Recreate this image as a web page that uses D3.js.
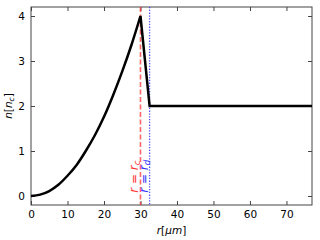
<!DOCTYPE html>
<meta charset="utf-8">
<script src="https://d3js.org/d3.v7.min.js"></script>
<style>
  body { margin: 0; background: #fff; }
  text { font-family: "DejaVu Sans", sans-serif; }
</style>
<div id="viz"></div>
<script>
// density profile
var radius  = [0, 2.5, 5, 7.5, 10, 12.5, 15, 17.5, 20, 22.5, 25, 27.5, 30, 32.5, 77];
var density = [0, 0.03, 0.11, 0.25, 0.45, 0.69, 1.0, 1.35, 1.76, 2.24, 2.77, 3.35, 4.0, 2.0, 2.0];
var rc = 30, rd = 32.5;
var xTicks = [0, 10, 20, 30, 40, 50, 60, 70];
var yTicks = [0, 1, 2, 3, 4];

var margin = {top: 7, right: 8, bottom: 35, left: 31},
    width = 320 - margin.left - margin.right,
    height = 240 - margin.top - margin.bottom;

var svg = d3.select("#viz")
  .append("svg")
    .attr("width", 320)
    .attr("height", 240)
  .append("g")
    .attr("transform", "translate(" + margin.left + "," + margin.top + ")");

var x = d3.scaleLinear().domain([0, 77]).range([0, width]);
var y = d3.scaleLinear().domain([-0.2, 4.2]).range([height, 0]);

// ticks on all four sides, pointing in
function styleAxis(g) {
  g.select(".domain").remove();
  g.selectAll("line").attr("stroke", "#444");
  g.selectAll("text").attr("font-size", 10.5).attr("fill", "#000");
}
svg.append("g").attr("transform", "translate(0," + height + ")")
  .call(d3.axisBottom(x).tickValues(xTicks).tickFormat(d3.format("d")).tickSizeInner(-4).tickPadding(6)).call(styleAxis);
svg.append("g")
  .call(d3.axisLeft(y).tickValues(yTicks).tickFormat(d3.format("d")).tickSizeInner(-4).tickPadding(6)).call(styleAxis);
svg.append("g")
  .call(d3.axisTop(x).tickValues(xTicks).tickSizeInner(-4).tickFormat("")).call(styleAxis);
svg.append("g").attr("transform", "translate(" + width + ",0)")
  .call(d3.axisRight(y).tickValues(yTicks).tickSizeInner(-4).tickFormat("")).call(styleAxis);

svg.append("rect")
  .attr("width", width).attr("height", height)
  .attr("fill", "none").attr("stroke", "#444").attr("stroke-width", 1);

// rc and rd markers
svg.append("line")
  .attr("x1", x(rc)).attr("x2", x(rc)).attr("y1", 0).attr("y2", height)
  .attr("stroke", "#ff3333").attr("stroke-opacity", 0.75)
  .attr("stroke-width", 1.6).attr("stroke-dasharray", "5,2.5");
svg.append("line")
  .attr("x1", x(rd)).attr("x2", x(rd)).attr("y1", 0).attr("y2", height)
  .attr("stroke", "#3333ff").attr("stroke-opacity", 0.85)
  .attr("stroke-width", 1.3).attr("stroke-dasharray", "1.3,1.5");

var pts = radius.map(function(r, i) { return [r, density[i]]; });
var peak = radius.indexOf(rc);
var rise = d3.line()
  .x(function(d) { return x(d[0]); })
  .y(function(d) { return y(d[1]); })
  .curve(d3.curveCatmullRom);
var rest = pts.slice(peak + 1).map(function(d) { return "L" + x(d[0]) + "," + y(d[1]); }).join("");
svg.append("path")
  .attr("fill", "none")
  .attr("stroke", "#000")
  .attr("stroke-width", 2.5)
  .attr("stroke-linejoin", "miter")
  .attr("d", rise(pts.slice(0, peak + 1)) + rest);

// labels
function vlabel(px, py, color, sub) {
  var t = svg.append("text")
    .attr("transform", "translate(" + px + "," + py + ") rotate(-90)")
    .attr("font-size", 12).attr("fill", color);
  t.append("tspan").attr("font-style", "italic").text("r");
  t.append("tspan").text(" = ");
  t.append("tspan").attr("font-style", "italic").text("r");
  t.append("tspan").attr("font-style", "italic").attr("font-size", 8.5).attr("dy", 2).text(sub);
}
vlabel(x(rc) - 2, y(0.07), "#ff3333", "c");
vlabel(x(rd) - 1.5, y(0.07), "#3333ff", "d");

var xl = svg.append("text")
  .attr("x", width / 2).attr("y", height + 29)
  .attr("text-anchor", "middle").attr("font-size", 10.5);
xl.append("tspan").attr("font-style", "italic").text("r");
xl.append("tspan").text("[");
xl.append("tspan").attr("font-style", "italic").text("μm");
xl.append("tspan").text("]");

var yl = svg.append("text")
  .attr("transform", "translate(-19," + (height / 2) + ") rotate(-90)")
  .attr("text-anchor", "middle").attr("font-size", 10.5);
yl.append("tspan").attr("font-style", "italic").text("n");
yl.append("tspan").text("[");
yl.append("tspan").attr("font-style", "italic").text("n");
yl.append("tspan").attr("font-style", "italic").attr("font-size", 7.5).attr("dy", 2).text("c");
yl.append("tspan").attr("dy", -2).text("]");
</script>
